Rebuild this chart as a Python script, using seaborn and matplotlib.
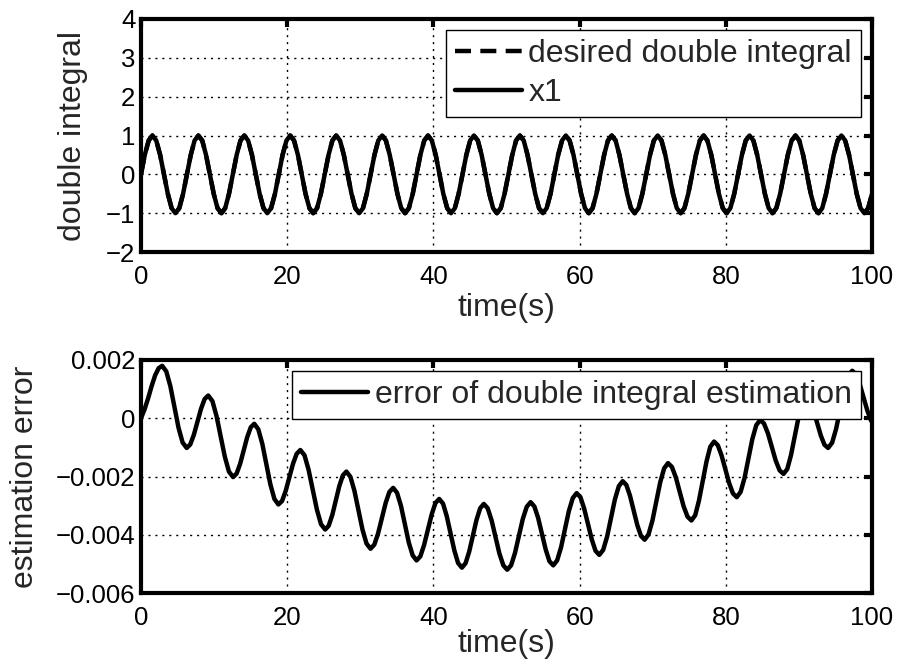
import numpy as np
import pandas as pd
import matplotlib
matplotlib.use("Agg")
import matplotlib.pyplot as plt
from matplotlib.ticker import FuncFormatter
import seaborn as sns

# ---- top panel: x1 (and the desired curve, drawn underneath it), read every ~pi/6 s
x1_vals = [
    0, 0.5, 0.87, 1, 0.87, 0.5, 0, -0.5, -0.87, -1, -0.87, -0.5,
    0, 0.5, 0.87, 1, 0.87, 0.5, 0, -0.5, -0.87, -1, -0.87, -0.5,
    0, 0.5, 0.87, 1, 0.87, 0.5, 0, -0.5, -0.87, -1, -0.87, -0.5,
    0, 0.5, 0.87, 1, 0.87, 0.5, 0, -0.5, -0.87, -1, -0.87, -0.5,
    0, 0.5, 0.87, 1, 0.87, 0.5, 0, -0.5, -0.87, -1, -0.87, -0.5,
    0, 0.5, 0.87, 1, 0.87, 0.5, 0, -0.5, -0.87, -1, -0.87, -0.5,
    0, 0.5, 0.87, 1, 0.87, 0.5, 0, -0.5, -0.87, -1, -0.87, -0.5,
    0, 0.5, 0.87, 1, 0.87, 0.5, 0, -0.5, -0.87, -1, -0.87, -0.5,
    0, 0.5, 0.87, 1, 0.87, 0.5, 0, -0.5, -0.87, -1, -0.87, -0.5,
    0, 0.5, 0.87, 1, 0.87, 0.5, 0, -0.5, -0.87, -1, -0.87, -0.5,
    0, 0.5, 0.87, 1, 0.87, 0.5, 0, -0.5, -0.87, -1, -0.87, -0.5,
    0, 0.5, 0.87, 1, 0.87, 0.5, 0, -0.5, -0.87, -1, -0.87, -0.5,
    0, 0.5, 0.87, 1, 0.87, 0.5, 0, -0.5, -0.87, -1, -0.87, -0.5,
    0, 0.5, 0.87, 1, 0.87, 0.5, 0, -0.5, -0.87, -1, -0.87, -0.5,
    0, 0.5, 0.87, 1, 0.87, 0.5, 0, -0.5, -0.87, -1, -0.87, -0.5,
    0, 0.5, 0.87, 1, 0.87, 0.5, 0, -0.5, -0.87, -1, -0.87,
    -0.51,
]
x1_time = list(np.round(np.arange(len(x1_vals) - 1) * 0.5236, 2)) + [100.0]
desired_vals = list(x1_vals)

# ---- bottom panel: estimation error (in units of 1e-3)
err_time = [
    0.00, 0.48, 0.97, 1.45, 1.93, 2.42,
    2.90, 3.46, 4.02, 4.58, 5.13, 5.69,
    6.25, 6.74, 7.23, 7.73, 8.22, 8.71,
    9.20, 9.77, 10.33, 10.90, 11.47, 12.03,
    12.60, 13.08, 13.57, 14.05, 14.53, 15.02,
    15.50, 16.05, 16.60, 17.15, 17.70, 18.25,
    18.80, 19.30, 19.80, 20.30, 20.80, 21.30,
    21.80, 22.37, 22.93, 23.50, 24.07, 24.63,
    25.20, 25.68, 26.17, 26.65, 27.13, 27.62,
    28.10, 28.65, 29.20, 29.75, 30.30, 30.85,
    31.40, 31.92, 32.43, 32.95, 33.47, 33.98,
    34.50, 35.03, 35.57, 36.10, 36.63, 37.17,
    37.70, 38.22, 38.73, 39.25, 39.77, 40.28,
    40.80, 41.32, 41.83, 42.35, 42.87, 43.38,
    43.90, 44.40, 44.90, 45.40, 45.90, 46.40,
    46.90, 47.43, 47.97, 48.50, 49.03, 49.57,
    50.10, 50.63, 51.17, 51.70, 52.23, 52.77,
    53.30, 53.82, 54.33, 54.85, 55.37, 55.88,
    56.40, 56.93, 57.47, 58.00, 58.53, 59.07,
    59.60, 60.12, 60.63, 61.15, 61.67, 62.18,
    62.70, 63.23, 63.77, 64.30, 64.83, 65.37,
    65.90, 66.40, 66.90, 67.40, 67.90, 68.40,
    68.90, 69.43, 69.97, 70.50, 71.03, 71.57,
    72.10, 72.63, 73.17, 73.70, 74.23, 74.77,
    75.30, 75.82, 76.33, 76.85, 77.37, 77.88,
    78.40, 78.92, 79.43, 79.95, 80.47, 80.98,
    81.50, 82.03, 82.57, 83.10, 83.63, 84.17,
    84.70, 85.23, 85.77, 86.30, 86.83, 87.37,
    87.90, 88.42, 88.93, 89.45, 89.97, 90.48,
    91.00, 91.50, 92.00, 92.50, 93.00, 93.50,
    94.00, 94.55, 95.10, 95.65, 96.20, 96.75,
    97.30, 97.82, 98.33, 98.85, 99.37, 99.88,
    100.00,
]
err_milli = [
    0.00, 0.30, 0.68, 1.10, 1.47, 1.72,
    1.80, 1.61, 1.10, 0.39, -0.32, -0.83,
    -1.02, -0.90, -0.57, -0.12, 0.33, 0.66,
    0.78, 0.59, 0.08, -0.62, -1.32, -1.83,
    -2.02, -1.90, -1.56, -1.11, -0.65, -0.31,
    -0.19, -0.38, -0.88, -1.58, -2.27, -2.77,
    -2.96, -2.84, -2.49, -2.03, -1.56, -1.22,
    -1.09, -1.27, -1.77, -2.46, -3.14, -3.64,
    -3.82, -3.69, -3.32, -2.83, -2.33, -1.96,
    -1.83, -2.01, -2.49, -3.16, -3.82, -4.30,
    -4.48, -4.34, -3.96, -3.44, -2.91, -2.53,
    -2.39, -2.56, -3.01, -3.64, -4.26, -4.71,
    -4.88, -4.74, -4.35, -3.83, -3.30, -2.91,
    -2.77, -2.93, -3.36, -3.95, -4.54, -4.97,
    -5.13, -4.98, -4.58, -4.04, -3.49, -3.09,
    -2.94, -3.09, -3.51, -4.07, -4.64, -5.05,
    -5.20, -5.05, -4.62, -4.04, -3.46, -3.04,
    -2.88, -3.03, -3.42, -3.97, -4.51, -4.91,
    -5.05, -4.88, -4.43, -3.81, -3.19, -2.74,
    -2.57, -2.71, -3.10, -3.63, -4.16, -4.55,
    -4.69, -4.52, -4.06, -3.43, -2.79, -2.33,
    -2.16, -2.29, -2.66, -3.17, -3.67, -4.04,
    -4.17, -3.99, -3.51, -2.86, -2.20, -1.72,
    -1.54, -1.67, -2.03, -2.53, -3.02, -3.38,
    -3.51, -3.33, -2.83, -2.16, -1.48, -0.98,
    -0.80, -0.93, -1.28, -1.76, -2.23, -2.58,
    -2.71, -2.53, -2.05, -1.39, -0.72, -0.24,
    -0.06, -0.18, -0.52, -0.99, -1.45, -1.79,
    -1.91, -1.74, -1.26, -0.61, 0.05, 0.53,
    0.70, 0.59, 0.27, -0.16, -0.59, -0.91,
    -1.02, -0.84, -0.36, 0.31, 0.97, 1.45,
    1.63, 1.51, 1.17, 0.72, 0.26, -0.08,
    -0.12,
]

x_ticks = [0, 20, 40, 60, 80, 100]
top_yticks = [-2, -1, 0, 1, 2, 3, 4]
bot_yticks = [-0.006, -0.004, -0.002, 0, 0.002]

top_df = pd.DataFrame({"t": x1_time, "x1": x1_vals, "desired": desired_vals})
err_df = pd.DataFrame({"t": err_time, "err": np.array(err_milli) / 1000.0})

sns.set_style("white")
plt.rcParams["font.family"] = ["Liberation Sans", "DejaVu Sans"]

fig = plt.figure(figsize=(8.98, 6.71), dpi=100)
ax1 = fig.add_axes([0.157, 0.6244, 0.814, 0.3473])
ax2 = fig.add_axes([0.157, 0.1162, 0.814, 0.3473])

sns.lineplot(data=top_df, x="t", y="desired", ax=ax1, color="k", linewidth=3.2,
             linestyle=(0, (3.6, 2.1)), label="desired double integral",
             estimator=None, sort=False)
sns.lineplot(data=top_df, x="t", y="x1", ax=ax1, color="k", linewidth=3.2,
             label="x1", estimator=None, sort=False)
sns.lineplot(data=err_df, x="t", y="err", ax=ax2, color="k", linewidth=3.2,
             label="error of double integral estimation", estimator=None, sort=False)


def fmt(v, _):
    return ("%g" % round(v, 6)).replace("-", "\u2212")


for ax, yl, yt in [(ax1, (-2, 4), top_yticks), (ax2, (-0.006, 0.002), bot_yticks)]:
    ax.set_xlim(0, 100)
    ax.set_ylim(*yl)
    ax.set_xticks(x_ticks)
    ax.set_yticks(yt)
    ax.xaxis.set_major_formatter(FuncFormatter(fmt))
    ax.yaxis.set_major_formatter(FuncFormatter(fmt))
    ax.grid(True, color="k", linestyle=(0, (1.5, 3.5)), linewidth=1)
    for s in ax.spines.values():
        s.set_linewidth(3)
        s.set_color("k")
        s.set_zorder(5)
    ax.tick_params(direction="in", length=6, width=3, top=True, right=True,
                   labelsize=18.5, colors="k")
    ax.tick_params(axis="x", pad=9)
    ax.tick_params(axis="y", pad=4)
    ax.set_xlabel("time(s)", fontsize=23)
    leg = ax.legend(loc="upper right", fontsize=23, frameon=True, fancybox=False,
                    edgecolor="k", framealpha=1, borderpad=0.28, labelspacing=0.28,
                    handlelength=2.1, handletextpad=0.2, borderaxespad=0.35)
    leg.get_frame().set_linewidth(1)

ax1.set_ylabel("double integral", fontsize=23)
ax2.set_ylabel("estimation error", fontsize=23)
ax1.yaxis.set_label_coords(-0.0725, 0.5)
ax2.yaxis.set_label_coords(-0.1386, 0.5)
ax1.xaxis.set_label_coords(0.5, -0.175)
ax2.xaxis.set_label_coords(0.5, -0.155)

fig.savefig("out.png", dpi=100)
